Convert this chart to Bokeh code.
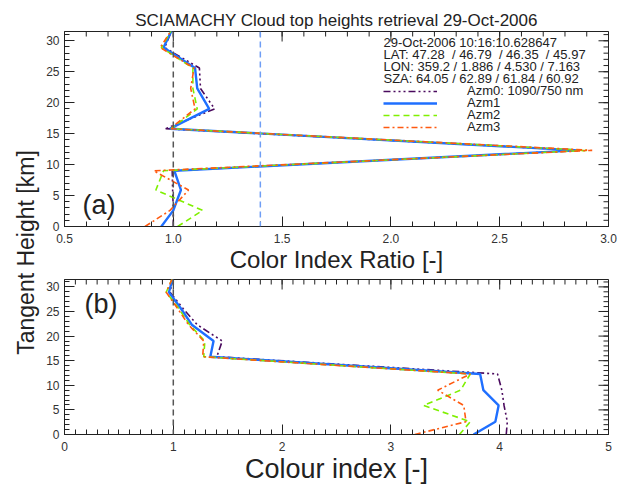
import numpy as np
from bokeh.plotting import figure
from bokeh.models import (Span, Label, Legend, LegendItem, SingleIntervalTicker,
                          Range1d, NumeralTickFormatter)
from bokeh.layouts import row, column
from bokeh.embed import file_html
from bokeh.resources import INLINE

# ---------------- data ----------------
heights = [0.0, 2.6, 5.9, 9.0, 12.3, 15.8, 19.0, 22.3, 25.6, 28.9, 32.2]

ratio_azm0 = [1.00, 1.00, 0.997, 0.995, 2.87, 0.965, 1.19, 1.125, 1.12, 0.96, 1.00]
ratio_azm1 = [0.945, 1.00, 1.035, 1.005, 2.86, 0.985, 1.165, 1.11, 1.10, 0.955, 1.00]
ratio_azm2 = [1.02, 1.135, 0.92, 0.955, 2.90, 0.99, 1.11, 1.09, 1.09, 0.945, 1.00]
ratio_azm3 = [0.87, 0.985, 1.07, 0.91, 2.925, 0.985, 1.10, 1.08, 1.095, 0.94, 1.00]

ci_azm0 = [4.06, 4.07, 4.04, 4.02, 3.98, 1.40, 1.45, 1.22, 1.09, 0.97, 1.00]
ci_azm1 = [3.76, 3.96, 3.99, 3.85, 3.82, 1.34, 1.37, 1.17, 1.07, 0.96, 1.00]
ci_azm2 = [3.63, 3.73, 3.30, 3.64, 3.73, 1.28, 1.29, 1.15, 1.05, 0.935, 1.00]
ci_azm3 = [3.22, 3.69, 3.67, 3.43, 3.73, 1.27, 1.28, 1.14, 1.04, 0.935, 1.00]

series_names = ["Azm0: 1090/750 nm", "Azm1", "Azm2", "Azm3"]
header_lines = [
    "29-Oct-2006 10:16:10.628647",
    "LAT: 47.28\u00a0 / 46.79\u00a0 / 46.35\u00a0 / 45.97",
    "LON: 359.2 / 1.886 / 4.530 / 7.163",
    "SZA: 64.05 / 62.89 / 61.84 / 60.92",
]
ratio_reference = 1.0
ratio_threshold = 1.4
ci_reference = 1.0

# ---------------- styles ----------------
FONT = "Liberation Sans"
AXC = "#222222"
colors = ["#4a0a5e", "#1f6fff", "#7ff000", "#ff5a10"]
dashes = ["7 3 2 3 2 3 2 3", "solid", "6 4", "6 3 2 3"]
widths = [1.6, 2.4, 1.6, 1.6]

W_MAIN = 578
BL, BR = 24, 10


def style_axes(p, xr, yr, xmaj, xnmin, ymaj, ynmin, xfmt, xlabel, xlabel_size):
    xa, ya = p.below[0], p.left[0]
    for ax in (xa, ya):
        ax.major_tick_in = 10
        ax.major_tick_out = 0
        ax.minor_tick_in = 5
        ax.minor_tick_out = 0
        ax.axis_line_color = AXC
        ax.major_tick_line_color = AXC
        ax.minor_tick_line_color = AXC
        ax.major_label_text_font = FONT
        ax.major_label_text_font_size = "12px"
        ax.major_label_text_color = "#333333"
    xa.ticker = SingleIntervalTicker(interval=xmaj, num_minor_ticks=xnmin)
    ya.ticker = SingleIntervalTicker(interval=ymaj, num_minor_ticks=ynmin)
    xa.formatter = xfmt
    xa.major_label_standoff = 7
    ya.major_label_standoff = 5
    xa.axis_label = xlabel
    xa.axis_label_text_font = FONT
    xa.axis_label_text_font_size = xlabel_size
    xa.axis_label_text_font_style = "normal"
    xa.axis_label_text_color = AXC
    xa.axis_label_standoff = 0
    p.grid.visible = False
    p.outline_line_color = AXC
    # mirrored inward ticks on top and right edges (no labels)
    x0, x1 = xr
    y0, y1 = yr
    xs_maj = np.arange(x0, x1 + 1e-9, xmaj)
    xs_min = np.arange(x0, x1 + 1e-9, xmaj / xnmin)
    ys_maj = np.arange(y0, y1 + 1e-9, ymaj)
    ys_min = np.arange(y0, y1 + 1e-9, ymaj / ynmin)
    p.ray(x=xs_maj, y=y1, length=10, length_units="screen", angle=-np.pi / 2,
          line_color=AXC, line_width=1)
    p.ray(x=xs_min, y=y1, length=5, length_units="screen", angle=-np.pi / 2,
          line_color=AXC, line_width=1)
    p.ray(x=x1, y=ys_maj, length=10, length_units="screen", angle=np.pi,
          line_color=AXC, line_width=1)
    p.ray(x=x1, y=ys_min, length=5, length_units="screen", angle=np.pi,
          line_color=AXC, line_width=1)


# ---------------- panel (a) ----------------
H1 = 275
XR1, YR = (0.5, 3.0), (0.0, 31.5)
p1 = figure(width=W_MAIN, height=H1, x_range=Range1d(*XR1), y_range=Range1d(*YR),
            output_backend="svg", toolbar_location=None,
            min_border_left=BL, min_border_right=BR, min_border_top=31, min_border_bottom=48)
p1.title.text = "SCIAMACHY Cloud top heights retrieval 29-Oct-2006"
p1.title.align = "center"
p1.title.text_font = FONT
p1.title.text_font_size = "17px"
p1.title.text_font_style = "normal"
p1.title.text_color = AXC
p1.title.standoff = 3

style_axes(p1, XR1, YR, 0.5, 5, 5, 5, NumeralTickFormatter(format="0.0"),
           "Color Index Ratio [-]", "24px")

p1.add_layout(Span(location=ratio_reference, dimension="height", line_color="#555555",
                   line_dash="6 4", line_width=1.5))
p1.add_layout(Span(location=ratio_threshold, dimension="height", line_color="#6f9ef5",
                   line_dash="6 4", line_width=1.5))

ratio_series = [ratio_azm0, ratio_azm1, ratio_azm2, ratio_azm3]
rends = []
for vals, c, d, w in zip(ratio_series, colors, dashes, widths):
    rends.append(p1.line(vals, heights, line_color=c, line_dash=d, line_width=w))

# frame geometry helpers for annotation placement (a)
F1_W, F1_H = W_MAIN - BL - BR, H1 - 31 - 48
def a_x(px):
    return XR1[0] + (px - 64) / F1_W * (XR1[1] - XR1[0])
def a_y(py):
    return (227 - py) / F1_H * (YR[1] - YR[0])

# one legend per entry so that the rows sit exactly 12 px apart
for i, (n, r) in enumerate(zip(series_names, rends)):
    row_center = 91 + 12 * i
    p1.add_layout(Legend(items=[LegendItem(label=n, renderers=[r])],
                         location=(383 - 64, 227 - (row_center + 8)),
                         glyph_width=54, glyph_height=12, label_height=12,
                         label_standoff=30, spacing=0, padding=0, margin=0,
                         border_line_alpha=0, background_fill_alpha=0,
                         label_text_font=FONT, label_text_font_size="13px",
                         label_text_line_height=0.9,
                         label_text_color=AXC))

for i, t in enumerate(header_lines):
    p1.add_layout(Label(x=a_x(383), y=a_y(42 + 12 * i), text=t, text_font=FONT,
                        text_font_size="13px", text_color=AXC, text_baseline="middle"))

p1.add_layout(Label(x=a_x(82), y=a_y(205), text="(a)", text_font=FONT, text_font_size="27px",
                    text_color=AXC, text_baseline="middle"))

# ---------------- panel (b) ----------------
H2 = 486 - H1
XR2 = (0.0, 5.0)
p2 = figure(width=W_MAIN, height=H2, x_range=Range1d(*XR2), y_range=Range1d(*YR),
            output_backend="svg", toolbar_location=None,
            min_border_left=BL, min_border_right=BR, min_border_top=4, min_border_bottom=52)
style_axes(p2, XR2, YR, 1, 10, 5, 5, NumeralTickFormatter(format="0"),
           "Colour index [-]", "27px")

p2.add_layout(Span(location=ci_reference, dimension="height", line_color="#555555",
                   line_dash="6 4", line_width=1.5))

ci_series = [ci_azm0, ci_azm1, ci_azm2, ci_azm3]
for vals, c, d, w in zip(ci_series, colors, dashes, widths):
    p2.line(vals, heights, line_color=c, line_dash=d, line_width=w)

F2_H = H2 - 4 - 52
def b_x(px):
    return XR2[0] + (px - 64) / F1_W * (XR2[1] - XR2[0])
def b_y(py):
    return (279 + F2_H - py) / F2_H * (YR[1] - YR[0])

p2.add_layout(Label(x=b_x(84), y=b_y(303), text="(b)", text_font=FONT, text_font_size="27px",
                    text_color=AXC, text_baseline="middle"))

# ---------------- shared y label ----------------
lab = figure(width=40, height=486, x_range=Range1d(0, 40), y_range=Range1d(0, 486),
             output_backend="svg", toolbar_location=None, min_border=0,
             x_axis_location=None, y_axis_location=None)
lab.outline_line_color = None
lab.grid.visible = False
lab.add_layout(Label(x=25, y=486 - 252, text="Tangent Height [km]", angle=np.pi / 2,
                     text_align="center", text_baseline="middle", text_font=FONT,
                     text_font_size="23px", text_color=AXC))

layout = row(lab, column(p1, p2, spacing=0), spacing=0)
open("out.html", "w").write(file_html(layout, INLINE))
